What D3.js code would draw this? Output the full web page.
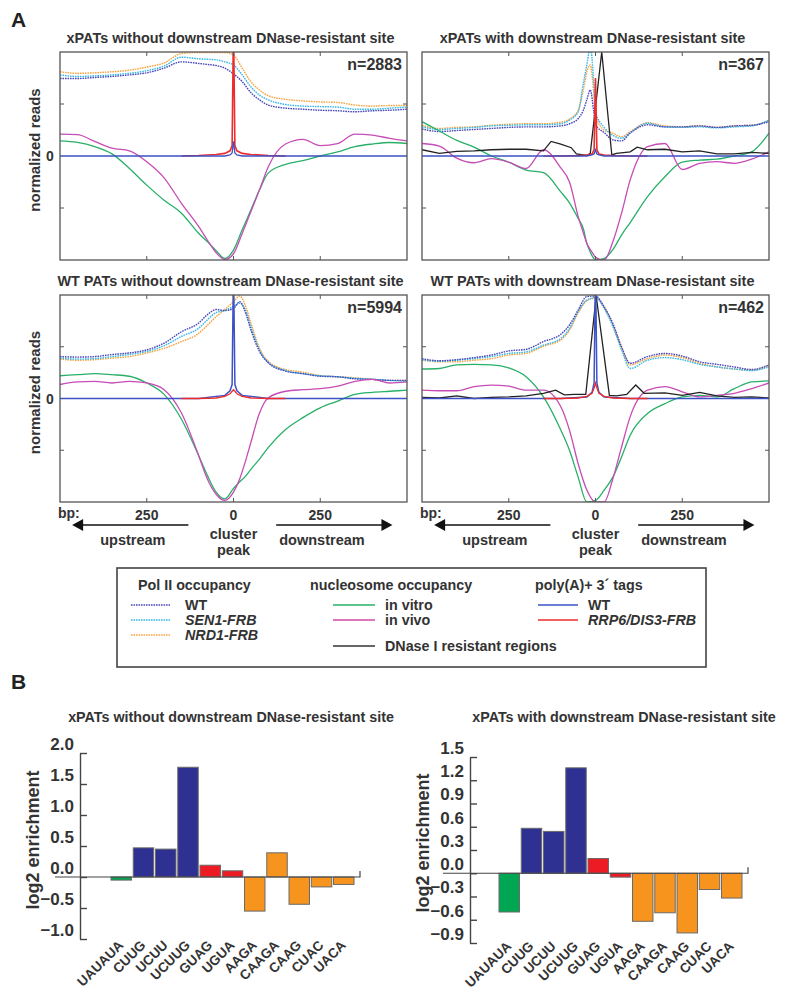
<!DOCTYPE html>
<html>
<head>
<meta charset="utf-8">
<script src="https://cdn.jsdelivr.net/npm/d3@7"></script>
<style>
  body { margin: 0; background: #fff; }
  text { font-family: "Liberation Sans", Arial, sans-serif; font-weight: bold; fill: #333; }
</style>
</head>
<body>
<div id="fig"></div>
<script>
/* ---------- panel A data (bp from cluster peak, normalized reads) ---------- */
const gridX = [-500,-450,-400,-350,-300,-250,-200,-150,-100,-75,-50,-25,0,25,50,75,100,150,200,250,300,350,400,450,500];

// xPATs without downstream DNase-resistant site
const tlPolWT = [1.49,1.49,1.51,1.53,1.56,1.60,1.69,1.81,1.78,1.76,1.74,1.69,1.58,1.43,1.22,1.08,0.98,0.92,0.90,0.88,0.87,0.85,0.87,0.88,0.90];
const tlSEN1  = [1.56,1.53,1.54,1.56,1.59,1.64,1.73,1.90,1.87,1.86,1.85,1.81,1.75,1.56,1.33,1.17,1.08,0.99,0.96,0.95,0.94,0.90,0.90,0.92,0.94];
const tlNRD1  = [1.62,1.59,1.60,1.62,1.65,1.71,1.79,1.97,1.99,1.99,1.99,1.99,1.94,1.69,1.43,1.27,1.16,1.09,1.06,1.04,1.03,0.98,0.96,0.97,0.97];
const tlVitro = [0.29,0.26,0.18,0.04,-0.24,-0.56,-0.85,-1.10,-1.49,-1.65,-1.82,-1.97,-1.81,-1.42,-1.04,-0.65,-0.33,-0.16,-0.09,0.00,0.08,0.18,0.23,0.26,0.24];
const tlVivo  = [0.42,0.41,0.28,0.15,0.10,-0.11,-0.42,-0.91,-1.36,-1.62,-1.86,-1.99,-1.88,-1.49,-1.07,-0.65,-0.21,0.23,0.32,0.20,0.24,0.42,0.40,0.34,0.29];

// xPATs with downstream DNase-resistant site
const trX = [-500,-450,-400,-350,-300,-250,-200,-150,-100,-75,-50,-35,-25,-15,-5,0,25,50,75,100,150,200,250,300,350,400,450,500];
const trPolWT = [0.52,0.47,0.49,0.51,0.53,0.55,0.56,0.56,0.58,0.62,0.72,0.88,1.08,1.27,0.85,0.60,0.45,0.31,0.29,0.44,0.60,0.56,0.56,0.58,0.55,0.58,0.59,0.66];
const trSEN1  = [0.56,0.51,0.53,0.55,0.58,0.59,0.60,0.60,0.62,0.69,0.85,1.40,1.75,2.10,1.40,0.85,0.55,0.40,0.34,0.45,0.63,0.56,0.55,0.56,0.54,0.56,0.58,0.69];
const trNRD1  = [0.59,0.53,0.55,0.56,0.59,0.61,0.62,0.62,0.65,0.71,0.88,1.27,1.62,1.75,1.20,0.80,0.50,0.44,0.37,0.47,0.64,0.58,0.56,0.58,0.55,0.58,0.59,0.68];
const trVitro = [0.66,0.48,0.30,0.17,0.00,-0.12,-0.27,-0.32,-0.69,-0.90,-1.20,-1.40,-1.68,-1.85,-1.97,-2.00,-1.97,-1.80,-1.52,-1.28,-0.78,-0.40,-0.12,-0.08,-0.06,0.00,0.08,0.44];
const trVivo  = [0.24,0.19,-0.04,-0.13,-0.05,-0.12,-0.24,0.12,-0.23,-0.50,-1.16,-1.48,-1.68,-1.80,-1.90,-1.95,-2.00,-1.65,-1.10,-0.46,0.18,0.24,-0.26,-0.14,-0.11,-0.14,-0.06,0.08];
const trDnaseX = [-500,-450,-400,-350,-300,-250,-200,-150,-128,-100,-70,-55,-25,-15,18,47,60,100,120,150,200,250,300,350,400,450,500];
const trDnase  = [0.12,0.05,0.09,0.10,0.12,0.13,0.13,0.10,0.28,0.23,0.16,0.04,0.01,0.05,2.00,0.02,0.05,0.08,0.17,0.12,0.13,0.08,0.10,0.04,0.04,0.07,0.05];

// WT PATs without downstream DNase-resistant site
const blX = [-500,-450,-400,-350,-300,-250,-200,-150,-100,-75,-50,-25,0,18,35,50,75,100,150,200,250,300,350,400,450,500];
const blPolWT = [0.81,0.80,0.81,0.85,0.88,0.94,1.07,1.29,1.46,1.62,1.72,1.70,1.74,1.87,1.65,1.33,0.91,0.69,0.53,0.48,0.43,0.42,0.38,0.37,0.35,0.35];
const blSEN1  = [0.78,0.76,0.77,0.81,0.85,0.91,1.02,1.20,1.36,1.52,1.66,1.70,1.78,1.84,1.70,1.39,0.94,0.70,0.54,0.48,0.44,0.42,0.39,0.37,0.35,0.33];
const blNRD1  = [0.76,0.74,0.75,0.78,0.81,0.88,0.97,1.10,1.26,1.42,1.58,1.72,1.87,1.98,1.78,1.46,0.97,0.72,0.56,0.51,0.44,0.42,0.40,0.37,0.35,0.35];
const blVitro = [0.44,0.46,0.48,0.46,0.43,0.30,0.08,-0.40,-1.11,-1.49,-1.81,-1.94,-1.74,-1.61,-1.50,-1.37,-1.17,-0.95,-0.60,-0.37,-0.18,-0.05,0.08,0.12,0.14,0.16];
const blVivo  = [0.27,0.32,0.33,0.30,0.33,0.30,0.17,-0.28,-1.11,-1.56,-1.85,-1.97,-1.81,-1.55,-1.20,-0.85,-0.28,0.01,0.14,0.17,0.19,0.24,0.33,0.37,0.30,0.32];

// WT PATs with downstream DNase-resistant site
const brPolWT = [0.77,0.73,0.75,0.79,0.84,0.92,0.95,1.10,1.24,1.42,1.71,1.97,1.98,1.77,1.45,1.00,0.68,0.81,0.87,0.82,0.71,0.66,0.61,0.56,0.65];
const brSEN1  = [0.75,0.72,0.74,0.77,0.81,0.87,0.90,1.03,1.16,1.35,1.68,1.90,1.95,1.74,1.39,0.94,0.58,0.74,0.79,0.75,0.66,0.61,0.57,0.54,0.61];
const brNRD1  = [0.74,0.71,0.71,0.74,0.77,0.84,0.87,1.01,1.13,1.32,1.65,1.89,1.94,1.77,1.42,0.99,0.65,0.77,0.84,0.79,0.68,0.61,0.57,0.55,0.63];
const brVitro = [0.57,0.58,0.65,0.66,0.65,0.59,0.42,0.03,-0.61,-1.00,-1.52,-2.00,-1.97,-1.77,-1.52,-1.13,-0.71,-0.29,-0.10,0.03,0.06,0.03,0.19,0.32,0.34];
const brVivo  = [0.16,0.15,0.15,0.23,0.26,0.24,0.16,0.16,-0.16,-0.61,-1.26,-1.77,-2.00,-2.00,-1.55,-0.94,-0.35,0.16,0.23,0.13,0.03,0.06,0.10,0.19,0.30];
const brDnaseX = [-500,-450,-400,-350,-300,-250,-200,-150,-115,-90,-60,-28,2,40,60,90,116,140,200,250,300,350,400,450,500];
const brDnase  = [0.02,0.01,0.05,0.00,0.02,0.03,0.05,0.10,0.16,0.07,0.08,0.08,1.98,0.06,0.05,0.08,0.26,0.10,0.11,0.06,0.12,0.05,0.02,0.03,0.01];

// poly(A)+ 3' tags
const polyWTX = [-500,-100,-25,-10,-4,0,4,10,25,100,500];
const polyRRPX = [-150,-100,-50,-25,-10,-4,0,4,10,25,50,100,150];
const tlPolyWT  = [0,0,0,0.02,0.06,0.28,0.06,0.02,0,0,0];
const tlPolyRRP = [0,0.01,0.03,0.05,0.10,0.20,2.60,0.20,0.10,0.05,0.03,0.01,0];
const trPolyWT  = [0,0,0,0.02,0.04,0.12,0.04,0.02,0,0,0];
const trPolyRRP = [0,0,0.01,0.02,0.04,0.12,1.50,0.12,0.04,0.02,0.01,0,0];
const blPolyWT  = [0,0,0.06,0.15,0.27,2.60,0.27,0.15,0.06,0,0];
const blPolyRRP = [0,0,0.01,0.04,0.09,0.14,0.17,0.14,0.09,0.04,0.01,0,0];
const brPolyWT  = [0,0,0.03,0.12,0.30,2.60,0.30,0.12,0.03,0,0];
const brPolyRRP = [0,0,0.01,0.04,0.10,0.20,0.30,0.20,0.10,0.04,0.01,0,0];

const panelTitles = ["xPATs without downstream DNase-resistant site", "xPATs with downstream DNase-resistant site",
                     "WT PATs without downstream DNase-resistant site", "WT PATs with downstream DNase-resistant site"];
const panelN = ["n=2883", "n=367", "n=5994", "n=462"];

/* ---------- panel B data ---------- */
const motifs = ["UAUAUA","CUUG","UCUU","UCUUG","GUAG","UGUA","AAGA","CAAGA","CAAG","CUAC","UACA"];
const motifGroup = ["AU","CU","CU","CU","GU","GU","AG","AG","AG","AG","AG"];
const enrichNoSite = [-0.05,0.47,0.45,1.77,0.19,0.10,-0.55,0.39,-0.44,-0.16,-0.12];
const enrichSite   = [-0.50,0.58,0.54,1.36,0.19,-0.05,-0.62,-0.51,-0.77,-0.21,-0.32];
const ticksNoSite = [2.0,1.5,1.0,0.5,0.0,-0.5,-1.0];
const ticksSite   = [1.5,1.2,0.9,0.6,0.3,0.0,-0.3,-0.6,-0.9];

/* ---------- colours ---------- */
const cPolWT = "#4848b8", cSEN1 = "#38b8e8", cNRD1 = "#f5a340",
      cVitro = "#28b068", cVivo = "#c64cb6", cDnase = "#222222",
      cPolyWT = "#3d52c4", cPolyRRP = "#ee2c2c";
const groupColor = d3.scaleOrdinal().domain(["AU","CU","GU","AG"]).range(["#00a651","#2e3192","#ed1c24","#f7941d"]);

const svg = d3.select("#fig").append("svg")
    .attr("width", 787).attr("height", 993)
    .style("background", "#fff");

/* ---------- panel A ---------- */
const layout = [
  {x: 60,  y: 52,  w: 347, h: 208},
  {x: 422, y: 52,  w: 347, h: 208},
  {x: 60,  y: 295, w: 347, h: 207},
  {x: 422, y: 295, w: 347, h: 207}
];

const panelData = [
  {xs: gridX, pol: [tlPolWT, tlSEN1, tlNRD1], vitro: tlVitro, vivo: tlVivo, polyWT: tlPolyWT, polyRRP: tlPolyRRP, rrpFirst: false},
  {xs: trX,   pol: [trPolWT, trSEN1, trNRD1], vitro: trVitro, vivo: trVivo, polyWT: trPolyWT, polyRRP: trPolyRRP, dnX: trDnaseX, dn: trDnase, rrpFirst: false},
  {xs: blX,   pol: [blPolWT, blSEN1, blNRD1], vitro: blVitro, vivo: blVivo, polyWT: blPolyWT, polyRRP: blPolyRRP, rrpFirst: true},
  {xs: gridX, pol: [brPolWT, brSEN1, brNRD1], vitro: brVitro, vivo: brVivo, polyWT: brPolyWT, polyRRP: brPolyRRP, dnX: brDnaseX, dn: brDnase, rrpFirst: true}
];

function addLine(g, xs, ys, sx, sy, color, opts) {
  const pts = xs.map((d, i) => [d, ys[i]]);
  const p = g.append("path").datum(pts)
    .attr("fill", "none")
    .attr("stroke", color)
    .attr("stroke-width", opts.width || 1.3)
    .attr("d", d3.line().x(d => sx(d[0])).y(d => sy(d[1])).curve(opts.curve || d3.curveMonotoneX));
  if (opts.dash) p.attr("stroke-dasharray", opts.dash);
}

layout.forEach((L, i) => {
  const D = panelData[i];
  const x = d3.scaleLinear().domain([-500, 500]).range([L.x, L.x + L.w]);
  const y = d3.scaleLinear().domain([-2, 2]).range([L.y + L.h, L.y]);
  const g = svg.append("g");

  g.append("clipPath").attr("id", "clip" + i)
    .append("rect").attr("x", L.x).attr("y", L.y).attr("width", L.w).attr("height", L.h);
  const plot = g.append("g").attr("clip-path", `url(#clip${i})`);

  // Pol II occupancy (dotted)
  [[D.pol[2], cNRD1], [D.pol[1], cSEN1], [D.pol[0], cPolWT]].forEach(s =>
    addLine(plot, D.xs, s[0], x, y, s[1], {dash: "1.6,0.9", width: 1.4}));
  // nucleosome occupancy
  addLine(plot, D.xs, D.vitro, x, y, cVitro, {});
  addLine(plot, D.xs, D.vivo, x, y, cVivo, {});
  if (D.dn) addLine(plot, D.dnX, D.dn, x, y, cDnase, {curve: d3.curveLinear, width: 1.3});
  // poly(A)+ tags
  if (D.rrpFirst) {
    addLine(plot, polyWTX, D.polyWT, x, y, cPolyWT, {curve: d3.curveLinear, width: 1.5});
    addLine(plot, polyRRPX, D.polyRRP, x, y, cPolyRRP, {curve: d3.curveLinear, width: 1.3});
  } else {
    addLine(plot, polyRRPX, D.polyRRP, x, y, cPolyRRP, {curve: d3.curveLinear, width: 1.6});
    addLine(plot, polyWTX, D.polyWT, x, y, cPolyWT, {curve: d3.curveLinear, width: 1.3});
  }

  // frame + inward ticks
  g.append("rect").attr("x", L.x).attr("y", L.y).attr("width", L.w).attr("height", L.h)
    .attr("fill", "none").attr("stroke", "#555").attr("stroke-width", 1.3);
  const tk = g.append("g").attr("stroke", "#555").attr("stroke-width", 1);
  [-250, 0, 250].forEach(v => {
    tk.append("line").attr("x1", x(v)).attr("x2", x(v)).attr("y1", L.y + L.h).attr("y2", L.y + L.h - 4);
    tk.append("line").attr("x1", x(v)).attr("x2", x(v)).attr("y1", L.y).attr("y2", L.y + 4);
  });
  [-1, 1].forEach(v => {
    tk.append("line").attr("x1", L.x).attr("x2", L.x + 4).attr("y1", y(v)).attr("y2", y(v));
    tk.append("line").attr("x1", L.x + L.w).attr("x2", L.x + L.w - 4).attr("y1", y(v)).attr("y2", y(v));
  });

  // texts
  g.append("text").attr("x", L.x + L.w / 2 - 3).attr("y", L.y - 9)
    .attr("text-anchor", "middle").style("font-size", "14.4px").text(panelTitles[i]);
  g.append("text").attr("x", L.x + L.w - 5).attr("y", L.y + 18)
    .attr("text-anchor", "end").style("font-size", "16px").text(panelN[i]);

  if (i % 2 === 0) {
    g.append("text").attr("transform", `translate(40,${y(0) - 6}) rotate(-90)`)
      .attr("text-anchor", "middle").style("font-size", "15px").text("normalized reads");
    g.append("text").attr("x", 50).attr("y", y(0) + 5)
      .attr("text-anchor", "middle").style("font-size", "14px").text("0");
  }

  if (i >= 2) {
    const by = L.y + L.h;
    g.append("text").attr("x", L.x - 2).attr("y", by + 16).style("font-size", "14px").text("bp:");
    [[-250, "250"], [0, "0"], [250, "250"]].forEach(t =>
      g.append("text").attr("x", x(t[0])).attr("y", by + 18).attr("text-anchor", "middle")
        .style("font-size", "14px").text(t[1]));
    const ay = by + 23;
    const arrows = g.append("g");
    arrows.append("line").attr("x1", x(-130)).attr("x2", x(-440)).attr("y1", ay).attr("y2", ay)
      .attr("stroke", "#111").attr("stroke-width", 1.5);
    arrows.append("path").attr("d", `M${x(-465)},${ay} l11,-6 l0,12 Z`).attr("fill", "#111");
    arrows.append("line").attr("x1", x(123)).attr("x2", x(433)).attr("y1", ay).attr("y2", ay)
      .attr("stroke", "#111").attr("stroke-width", 1.5);
    arrows.append("path").attr("d", `M${x(458)},${ay} l-11,-6 l0,12 Z`).attr("fill", "#111");
    g.append("text").attr("x", x(-290)).attr("y", by + 43).attr("text-anchor", "middle")
      .style("font-size", "14.5px").text("upstream");
    g.append("text").attr("x", x(0)).attr("y", by + 37).attr("text-anchor", "middle")
      .style("font-size", "14.5px").text("cluster");
    g.append("text").attr("x", x(0)).attr("y", by + 53).attr("text-anchor", "middle")
      .style("font-size", "14.5px").text("peak");
    g.append("text").attr("x", x(255)).attr("y", by + 43).attr("text-anchor", "middle")
      .style("font-size", "14.5px").text("downstream");
  }
});

svg.append("text").attr("x", 11).attr("y", 27).style("font-size", "21px").style("fill", "#222").text("A");
svg.append("text").attr("x", 11).attr("y", 689).style("font-size", "21px").style("fill", "#222").text("B");

/* ---------- legend ---------- */
const leg = svg.append("g");
leg.append("rect").attr("x", 117).attr("y", 568).attr("width", 589).attr("height", 99)
  .attr("fill", "#fff").attr("stroke", "#444").attr("stroke-width", 1.6);
const legCols = [
  {hx: 138, header: "Pol II occupancy", lx0: 131, lx1: 170, tx: 185, items: [
    {label: "WT", color: cPolWT, dash: "1.6,0.9", italic: false, y: 605},
    {label: "SEN1-FRB", color: cSEN1, dash: "1.6,0.9", italic: true, y: 620},
    {label: "NRD1-FRB", color: cNRD1, dash: "1.6,0.9", italic: true, y: 635}]},
  {hx: 310, header: "nucleosome occupancy", lx0: 333, lx1: 375, tx: 385, items: [
    {label: "in vitro", color: cVitro, italic: false, y: 605},
    {label: "in vivo", color: "#d04aa8", italic: false, y: 620},
    {label: "DNase I resistant regions", color: "#333", italic: false, y: 646}]},
  {hx: 535, header: "poly(A)+ 3\u00b4 tags", lx0: 538, lx1: 578, tx: 588, items: [
    {label: "WT", color: cPolyWT, italic: false, y: 605},
    {label: "RRP6/DIS3-FRB", color: cPolyRRP, italic: true, y: 620}]}
];
legCols.forEach(c => {
  leg.append("text").attr("x", c.hx).attr("y", 590).style("font-size", "14.3px").text(c.header);
  c.items.forEach(it => {
    const ln = leg.append("line").attr("x1", c.lx0).attr("x2", c.lx1).attr("y1", it.y).attr("y2", it.y)
      .attr("stroke", it.color).attr("stroke-width", it.dash ? 1.4 : 1.6);
    if (it.dash) ln.attr("stroke-dasharray", it.dash);
    leg.append("text").attr("x", c.tx).attr("y", it.y + 5).style("font-size", "14.3px")
      .style("font-style", it.italic ? "italic" : "normal").text(it.label);
  });
});

/* ---------- panel B bar charts ---------- */
function barChart(cfg) {
  const g = svg.append("g");
  const y = d3.scaleLinear().domain(cfg.dom).range([cfg.yb, cfg.yt]);
  const x = d3.scaleBand().domain(motifs).range([cfg.bx0, cfg.bx1]).paddingInner(0.08);

  g.append("text").attr("x", cfg.titleX).attr("y", 722).attr("text-anchor", "middle")
    .style("font-size", "14.3px").text(cfg.title);

  g.selectAll("rect.bar").data(cfg.values).enter().append("rect")
    .attr("class", "bar")
    .attr("x", (d, i) => x(motifs[i]))
    .attr("width", x.bandwidth())
    .attr("y", d => y(Math.max(0, d)))
    .attr("height", d => Math.abs(y(d) - y(0)))
    .attr("fill", (d, i) => groupColor(motifGroup[i]))
    .attr("stroke", "#6a6a6a").attr("stroke-width", 1);

  // zero line with end tick
  g.append("path").attr("d", `M${cfg.zx0},${y(0)} H${cfg.zx1} V${y(0) - 6}`)
    .attr("fill", "none").attr("stroke", "#444").attr("stroke-width", 1.2);

  const ax = g.append("g").attr("transform", `translate(${cfg.ax},0)`)
    .call(d3.axisLeft(y).tickValues(cfg.ticks).tickFormat(d3.format(".1f"))
      .tickSize(-7).tickSizeOuter(0).tickPadding(6));
  ax.select(".domain").attr("stroke", "#444").attr("stroke-width", 1.4);
  ax.selectAll(".tick line").attr("stroke", "#444").attr("stroke-width", 1.4);
  ax.selectAll(".tick text").attr("y", -9).style("font-size", "17px")
    .style("font-family", "'Liberation Sans', Arial, sans-serif").attr("fill", "#333");

  g.append("text").attr("transform", `translate(${cfg.labelX},${cfg.labelY}) rotate(-90)`)
    .attr("text-anchor", "middle").style("font-size", "18px").text("log2 enrichment");

  g.selectAll("text.motif").data(motifs).enter().append("text")
    .attr("class", "motif")
    .attr("transform", d => `translate(${x(d) + x.bandwidth() / 2 + 3},${cfg.labelTop}) rotate(-45)`)
    .attr("text-anchor", "end").style("font-size", "13.5px").text(d => d);
}

barChart({title: "xPATs without downstream DNase-resistant site", titleX: 231,
  values: enrichNoSite, ticks: ticksNoSite, dom: [-1, 2], yb: 939, yt: 753, labelTop: 946,
  ax: 80, bx0: 111, bx1: 354, zx0: 55, zx1: 360, labelX: 39, labelY: 840});
barChart({title: "xPATs with downstream DNase-resistant site", titleX: 624,
  values: enrichSite, ticks: ticksSite, dom: [-0.9, 1.5], yb: 943, yt: 757, labelTop: 947,
  ax: 470, bx0: 499, bx1: 742, zx0: 443, zx1: 748, labelX: 429, labelY: 843});
</script>
</body>
</html>
